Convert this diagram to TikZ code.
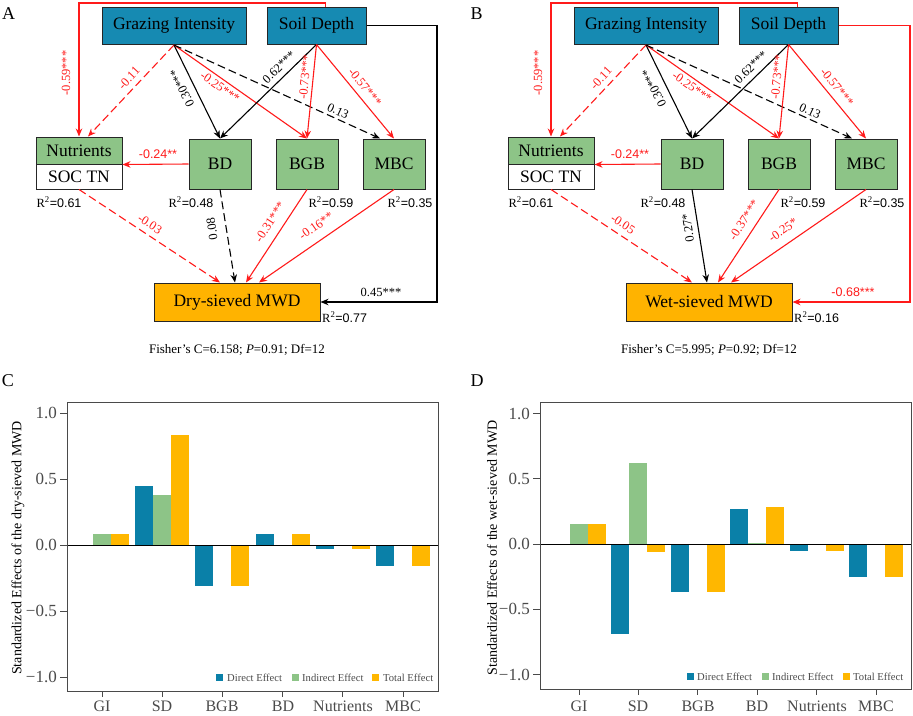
\documentclass[tikz,border=0pt]{standalone}
\usepackage{fontspec}
\setmainfont{Liberation Serif}
\newfontfamily\sansf{Liberation Sans}
\usetikzlibrary{arrows.meta}
\definecolor{gblue}{HTML}{168AB2}
\definecolor{sgreen}{HTML}{8DC487}
\definecolor{mwdorange}{HTML}{FFB300}
\definecolor{barblue}{HTML}{0A80A8}
\definecolor{bargreen}{HTML}{8DC487}
\definecolor{barorange}{HTML}{FFB700}
\definecolor{pred}{HTML}{FF1A1A}
\definecolor{axgray}{HTML}{4A4A4A}

\begin{document}
\begin{tikzpicture}[x=1pt, y=-1pt, >={Stealth[length=8pt,width=6.5pt]},
  boxtxt/.style={font=\fontsize{17.5}{20}\selectfont, inner sep=0pt},
  topbox/.style={boxtxt, draw=black!85, line width=1pt, fill=gblue, minimum height=37pt},
  midbox/.style={boxtxt, draw=black!85, line width=1pt, fill=sgreen, minimum width=62pt, minimum height=50pt},
  mwdbox/.style={boxtxt, draw=black!85, line width=1pt, fill=mwdorange, minimum width=166pt, minimum height=38pt},
  redline/.style={pred, line width=1.1pt},
  blkline/.style={black, line width=1.1pt},
  longdash/.style={dash pattern=on 8pt off 4pt},
  rlab/.style={pred, font=\fontsize{12.5}{15}\selectfont, inner sep=0pt},
  klab/.style={black, font=\fontsize{12.5}{15}\selectfont, inner sep=0pt},
  slab/.style={font=\sansf\fontsize{12.5}{15}\selectfont, inner sep=0pt},
  rsq/.style={font=\fontsize{12.5}{15}\selectfont, inner sep=0pt},
  plab/.style={font=\fontsize{18}{20}\selectfont, inner sep=0pt},
  ticklab/.style={axgray, font=\fontsize{17}{20}\selectfont, inner sep=0pt},
  xlab/.style={axgray, font=\fontsize{16}{20}\selectfont, inner sep=0pt},
  leglab/.style={axgray, font=\fontsize{10.6}{12}\selectfont, inner sep=0pt, anchor=west}]

\useasboundingbox (0,0) rectangle (913,715);

% ---------- A: dry-sieved SEM ----------
\node[plab] (labA) at (8.5,14) {A};
\node[topbox, minimum width=144pt] (giA) at (174,26) {Grazing Intensity};
\node[topbox, minimum width=99pt] (sdA) at (316.5,25.5) {Soil Depth};
\node[boxtxt, draw=black!85, line width=1pt, fill=sgreen, minimum width=86pt, minimum height=27pt] (nutA) at (79,150.5) {Nutrients};
\node[boxtxt, draw=black!85, line width=1pt, fill=white, minimum width=86pt, minimum height=25pt] (socA) at (79,176.5) {SOC TN};
\node[midbox] (bdA) at (220,164) {BD};
\node[midbox] (bgbA) at (307,164) {BGB};
\node[midbox] (mbcA) at (394,164) {MBC};
\node[mwdbox] (mwdA) at (237,302) {Dry-sieved MWD};

\coordinate (topA) at (79,3);
\coordinate (rgtA) at (437,302);
\draw[redline,->] ([xshift=9pt]sdA.north) |- (topA) -- (nutA.north);
\draw[redline,longdash,->] (giA.south) -- ([xshift=9pt]nutA.north);
\draw[blkline,->] (giA.south) -- (bdA.north);
\draw[redline,->] (giA.south) -- (bgbA.north);
\draw[blkline,longdash,->] (giA.south) -- ([xshift=-14pt]mbcA.north);
\draw[blkline,->] (sdA.south) -- (bdA.north);
\draw[redline,->] (sdA.south) -- (bgbA.north);
\draw[redline,->] (sdA.south) -- (mbcA.north);
\draw[redline,->] (bdA.west) -- (nutA.south east);
\draw[redline,longdash,->] (socA.south) -- ([xshift=-17pt]mwdA.north);
\draw[blkline,longdash,->] (bdA.south) -- ([xshift=-2pt]mwdA.north);
\draw[redline,->] (bgbA.south) -- ([xshift=9pt]mwdA.north);
\draw[redline,->] (mbcA.south) -- ([xshift=22pt]mwdA.north);
\draw[blkline,->] (sdA.east) -| (rgtA) -- (mwdA.east);

\node[rlab, rotate=90] (a1) at (66,73) {-0.59***};
\node[rlab, rotate=47.2] (a2) at (129,78) {-0.11};
\node[klab, rotate=115.8] (a3) at (182,88) {0.30***};
\node[rlab, rotate=-35.5] (a4) at (220,87) {-0.25***};
\node[klab, rotate=-24.8] (a5) at (338,111) {0.13};
\node[klab, rotate=44.7] (a6) at (279,67) {0.62***};
\node[rlab, rotate=84.6] (a7) at (305,77) {-0.73***};
\node[rlab, rotate=-50.6] (a8) at (365,87) {-0.57***};
\node[slab, pred] (a9) at (158,154) {-0.24**};
\node[rlab, rotate=-33.7] (a10) at (150,224) {-0.03};
\node[klab, rotate=99.1] (a11) at (212,229) {0.08};
\node[rlab, rotate=57] (a12) at (270,222) {-0.31***};
\node[rlab, rotate=34.9] (a13) at (316,226) {-0.16**};
\node[klab] (a14) at (381,292) {0.45***};

\node[rsq] (r1A) at (59,202) {R\textsuperscript{2}{\sansf=0.61}};
\node[rsq] (r2A) at (191,202) {R\textsuperscript{2}{\sansf=0.48}};
\node[rsq] (r3A) at (331,202) {R\textsuperscript{2}{\sansf=0.59}};
\node[rsq] (r4A) at (410,202) {R\textsuperscript{2}{\sansf=0.35}};
\node[rsq, anchor=west] (r5A) at (322,317) {R\textsuperscript{2}{\sansf=0.77}};
\node[font=\fontsize{13}{15}\selectfont, inner sep=0pt] (fisA) at (237,350) {Fisher's C=6.158; \textit{P}=0.91; Df=12};

% ---------- B: wet-sieved SEM ----------
\begin{scope}[xshift=472pt]
\node[plab] (labB) at (4.5,14) {B};
\node[topbox, minimum width=144pt] (giB) at (174,26) {Grazing Intensity};
\node[topbox, minimum width=99pt] (sdB) at (316.5,25.5) {Soil Depth};
\node[boxtxt, draw=black!85, line width=1pt, fill=sgreen, minimum width=86pt, minimum height=27pt] (nutB) at (79,150.5) {Nutrients};
\node[boxtxt, draw=black!85, line width=1pt, fill=white, minimum width=86pt, minimum height=25pt] (socB) at (79,176.5) {SOC TN};
\node[midbox] (bdB) at (220,164) {BD};
\node[midbox] (bgbB) at (307,164) {BGB};
\node[midbox] (mbcB) at (394,164) {MBC};
\node[mwdbox] (mwdB) at (237,302) {Wet-sieved MWD};

\coordinate (topB) at (79,3);
\coordinate (rgtB) at (438,302);
\draw[redline,->] ([xshift=9pt]sdB.north) |- (topB) -- (nutB.north);
\draw[redline,longdash,->] (giB.south) -- ([xshift=9pt]nutB.north);
\draw[blkline,->] (giB.south) -- (bdB.north);
\draw[redline,->] (giB.south) -- (bgbB.north);
\draw[blkline,longdash,->] (giB.south) -- ([xshift=-14pt]mbcB.north);
\draw[blkline,->] (sdB.south) -- (bdB.north);
\draw[redline,->] (sdB.south) -- (bgbB.north);
\draw[redline,->] (sdB.south) -- (mbcB.north);
\draw[redline,->] (bdB.west) -- (nutB.south east);
\draw[redline,longdash,->] (socB.south) -- ([xshift=-17pt]mwdB.north);
\draw[blkline,->] (bdB.south) -- ([xshift=-2pt]mwdB.north);
\draw[redline,->] (bgbB.south) -- ([xshift=9pt]mwdB.north);
\draw[redline,->] (mbcB.south) -- ([xshift=22pt]mwdB.north);
\draw[redline,->] (sdB.east) -| (rgtB) -- (mwdB.east);

\node[rlab, rotate=90] (b1) at (66,73) {-0.59***};
\node[rlab, rotate=47.2] (b2) at (129,78) {-0.11};
\node[klab, rotate=115.8] (b3) at (182,88) {0.30***};
\node[rlab, rotate=-35.5] (b4) at (220,87) {-0.25***};
\node[klab, rotate=-24.8] (b5) at (338,111) {0.13};
\node[klab, rotate=44.7] (b6) at (279,67) {0.62***};
\node[rlab, rotate=84.6] (b7) at (305,77) {-0.73***};
\node[rlab, rotate=-50.6] (b8) at (365,87) {-0.57***};
\node[slab, pred] (b9) at (158,154) {-0.24**};
\node[rlab, rotate=-33.7] (b10) at (151,224) {-0.05};
\node[klab, rotate=99.1] (b11) at (216,228) {0.27*};
\node[rlab, rotate=57] (b12) at (272,220) {-0.37***};
\node[rlab, rotate=34.9] (b13) at (311,230) {-0.25*};
\node[slab, pred] (b14) at (381,292) {-0.68***};

\node[rsq] (r1B) at (59,202) {R\textsuperscript{2}{\sansf=0.61}};
\node[rsq] (r2B) at (191,202) {R\textsuperscript{2}{\sansf=0.48}};
\node[rsq] (r3B) at (331,202) {R\textsuperscript{2}{\sansf=0.59}};
\node[rsq] (r4B) at (410,202) {R\textsuperscript{2}{\sansf=0.35}};
\node[rsq, anchor=west] (r5B) at (322,317) {R\textsuperscript{2}{\sansf=0.16}};
\node[font=\fontsize{13}{15}\selectfont, inner sep=0pt] (fisB) at (237,350) {Fisher's C=5.995; \textit{P}=0.92; Df=12};
\end{scope}

% ---------- C: effects on dry-sieved MWD ----------
\node[plab] (labC) at (8,381) {C};
\foreach \i/\d/\n/\t in {0/0/0.08/0.08, 1/0.45/0.38/0.83, 2/-0.31/0/-0.31,
                         3/0.08/0/0.08, 4/-0.03/0/-0.03, 5/-0.16/0/-0.16} {
  \pgfmathsetmacro\cx{102+60.2*\i}
  \fill[barblue] ({\cx-27},545) rectangle ({\cx-9},{545-132*\d});
  \fill[bargreen] ({\cx-9},545) rectangle ({\cx+9},{545-132*\n});
  \fill[barorange] ({\cx+9},545) rectangle ({\cx+27},{545-132*\t});
  \draw[axgray, line width=0.9pt] (\cx,691) -- (\cx,697);
}
\draw[black, line width=1pt] (67,545) -- (438,545);
\draw[axgray, line width=1pt] (67,402) rectangle (438,691);
\foreach \v/\t in {1/1.0, 0.5/0.5, 0/0.0, -0.5/−0.5, -1/−1.0} {
  \draw[axgray, line width=0.9pt] (60,{545-132*\v}) -- (67,{545-132*\v});
  \node[ticklab, anchor=east] at (57,{545-132*\v}) {\t};
}
\node[xlab] (gC) at (102,706) {GI};
\node[xlab] (sC) at (162,706) {SD};
\node[xlab] (bgC) at (222,706) {BGB};
\node[xlab] (bdC) at (283,706) {BD};
\node[xlab] (nC) at (343,706) {Nutrients};
\node[xlab] (mC) at (403,706) {MBC};
\node[rotate=90, font=\fontsize{14}{16}\selectfont, inner sep=0pt] (yC) at (18,548) {Standardized Effects of the dry-sieved MWD};
\fill[barblue] (216,674) rectangle (223,681);
\node[leglab] (d1C) at (227,677.5) {Direct Effect};
\fill[bargreen] (292,674) rectangle (299,681);
\node[leglab] (d2C) at (302,677.5) {Indirect Effect};
\fill[barorange] (372,674) rectangle (379,681);
\node[leglab] (d3C) at (383,677.5) {Total Effect};

% ---------- D: effects on wet-sieved MWD ----------
\node[plab] (labD) at (477,381) {D};
\foreach \i/\d/\n/\t in {0/0/0.15/0.15, 1/-0.69/0.62/-0.06, 2/-0.37/0/-0.37,
                         3/0.27/0.01/0.28, 4/-0.05/0/-0.05, 5/-0.25/0/-0.25} {
  \pgfmathsetmacro\cx{579+59.4*\i}
  \fill[barblue] ({\cx-27},544) rectangle ({\cx-9},{544-130.5*\d});
  \fill[bargreen] ({\cx-9},544) rectangle ({\cx+9},{544-130.5*\n});
  \fill[barorange] ({\cx+9},544) rectangle ({\cx+27},{544-130.5*\t});
  \draw[axgray, line width=0.9pt] (\cx,689) -- (\cx,695);
}
\draw[black, line width=1pt] (540,544) -- (911,544);
\draw[axgray, line width=1pt] (540,402) rectangle (911,689);
\foreach \v/\t in {1/1.0, 0.5/0.5, 0/0.0, -0.5/−0.5, -1/−1.0} {
  \draw[axgray, line width=0.9pt] (533,{544-130.5*\v}) -- (540,{544-130.5*\v});
  \node[ticklab, anchor=east] at (530,{544-130.5*\v}) {\t};
}
\node[xlab] (gD) at (579,706) {GI};
\node[xlab] (sD) at (638,706) {SD};
\node[xlab] (bgD) at (698,706) {BGB};
\node[xlab] (bdD) at (757,706) {BD};
\node[xlab] (nD) at (817,706) {Nutrients};
\node[xlab] (mD) at (876,706) {MBC};
\node[rotate=90, font=\fontsize{14}{16}\selectfont, inner sep=0pt] (yD) at (492,548) {Standardized Effects of the wet-sieved MWD};
\fill[barblue] (687,673) rectangle (694,680);
\node[leglab] (d1D) at (697,676.5) {Direct Effect};
\fill[bargreen] (762,673) rectangle (769,680);
\node[leglab] (d2D) at (772,676.5) {Indirect Effect};
\fill[barorange] (843,673) rectangle (850,680);
\node[leglab] (d3D) at (853,676.5) {Total Effect};
\end{tikzpicture}
\end{document}
